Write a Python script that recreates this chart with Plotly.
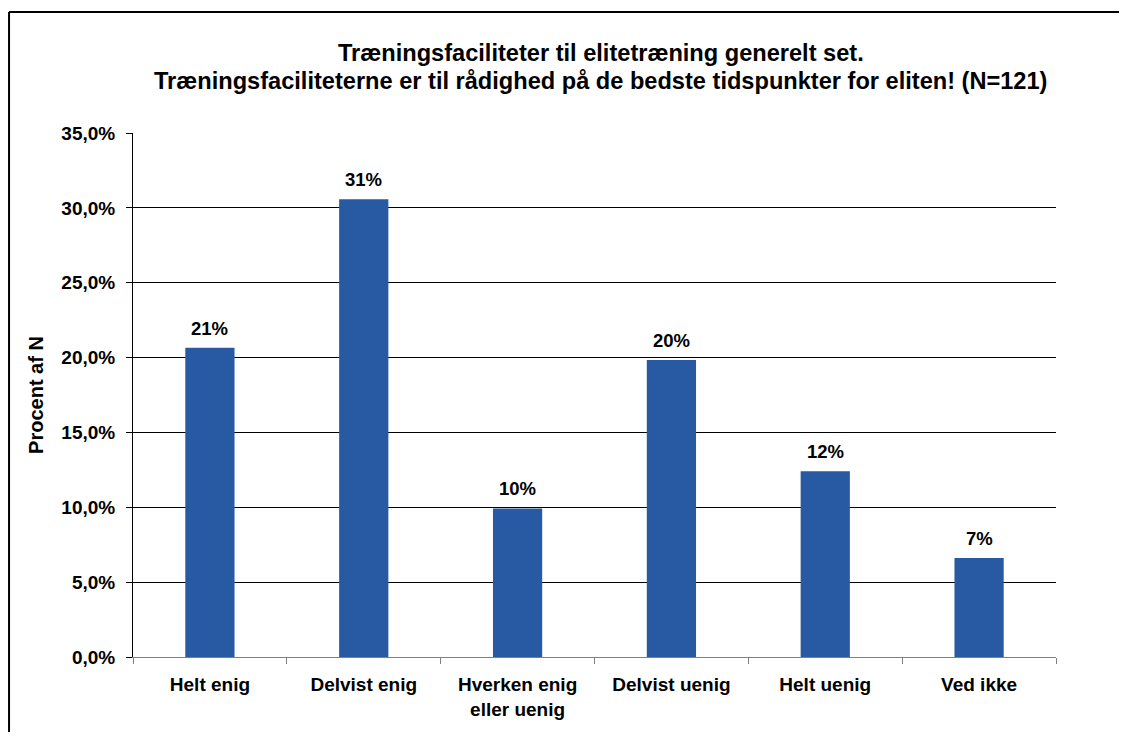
import plotly.graph_objects as go

categories = ["Helt enig", "Delvist enig", "Hverken enig<br>eller uenig", "Delvist uenig", "Helt uenig", "Ved ikke"]
values = [20.66, 30.58, 9.92, 19.83, 12.40, 6.61]
labels = ["21%", "31%", "10%", "20%", "12%", "7%"]
ytick_vals = [0, 5, 10, 15, 20, 25, 30, 35]
ytick_text = ["0,0%", "5,0%", "10,0%", "15,0%", "20,0%", "25,0%", "30,0%", "35,0%"]
title_lines = ["Træningsfaciliteter til elitetræning generelt set.",
               "Træningsfaciliteterne er til rådighed på de bedste tidspunkter for eliten! (N=121)"]

FONT = "Liberation Sans, Arial, sans-serif"
BAR = "#285AA3"

fig = go.Figure()
fig.add_trace(go.Bar(x=categories, y=values, marker=dict(color=BAR, line=dict(width=0)),
                     width=0.32, hoverinfo="skip"))

for c, v, t in zip(categories, values, labels):
    fig.add_annotation(x=c, y=v, text="<b>%s</b>" % t, showarrow=False, yanchor="bottom",
                       yshift=7, font=dict(family=FONT, size=18.5, color="black"))

# two title lines (reference uses tighter line spacing than a plotly title)
for line, ypos in zip(title_lines, [1.1527, 1.0992]):
    fig.add_annotation(xref="paper", yref="paper", x=0.507, y=ypos, xanchor="center", yanchor="middle",
                       text="<b>%s</b>" % line, showarrow=False,
                       font=dict(family=FONT, size=23.6, color="black"))

fig.update_layout(
    width=1111, height=724,
    margin=dict(l=125, r=63, t=125, b=75),
    paper_bgcolor="white", plot_bgcolor="white",
    showlegend=False,
    font=dict(family=FONT, color="black"),
)
fig.update_xaxes(type="category", range=[-0.5, 5.5], showline=True, linecolor="#808080", linewidth=1,
                 ticks="outside", tickson="boundaries", ticklen=6, tickcolor="#808080",
                 ticklabelstandoff=10,
                 tickfont=dict(family=FONT, size=19, color="black"), showgrid=False,
                 tickprefix="<b>", ticksuffix="</b>")
fig.update_yaxes(range=[0, 35], tickvals=ytick_vals, ticktext=["<b>%s</b>" % s for s in ytick_text],
                 showline=True, linecolor="black", linewidth=1, ticks="outside", ticklen=6, tickcolor="black",
                 ticklabelstandoff=7,
                 showgrid=True, gridcolor="black", gridwidth=1, zeroline=False,
                 tickfont=dict(family=FONT, size=19, color="black"),
                 title=dict(text="<b>Procent af N</b>", font=dict(family=FONT, size=20, color="black"), standoff=12))

# outer chart border (only left and top edges are visible in the reference)
fig.add_shape(type="line", xref="paper", yref="paper", x0=-0.1343, x1=-0.1343, y0=-0.3, y1=1.2309,
              line=dict(color="black", width=2), layer="above")
fig.add_shape(type="line", xref="paper", yref="paper", x0=-0.1343, x1=1.3, y0=1.2309, y1=1.2309,
              line=dict(color="black", width=2), layer="above")

fig.write_html("out.html")
